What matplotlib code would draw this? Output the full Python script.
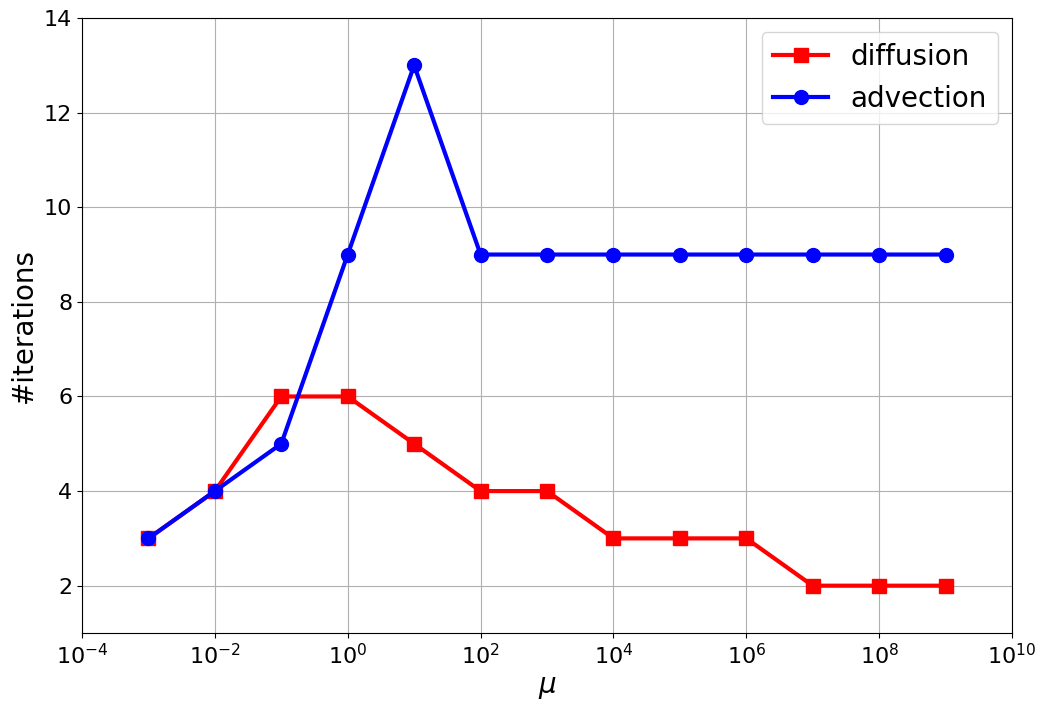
import matplotlib
matplotlib.use("Agg")
import matplotlib.pyplot as plt
import numpy as np

mu = [1e-3, 1e-2, 1e-1, 1e0, 1e1, 1e2, 1e3, 1e4, 1e5, 1e6, 1e7, 1e8, 1e9]
diffusion = [3, 4, 6, 6, 5, 4, 4, 3, 3, 3, 2, 2, 2]
advection = [3, 4, 5, 9, 13, 9, 9, 9, 9, 9, 9, 9, 9]

fig = plt.figure(figsize=(10.46, 7.12), dpi=100)
ax = fig.add_axes([82/1046, 1-633/712, (1012-82)/1046, (633-18)/712])
ax.plot(mu, diffusion, color='red', marker='s', lw=3, ms=10, label='diffusion')
ax.plot(mu, advection, color='blue', marker='o', lw=3, ms=10, label='advection')
ax.set_xscale('log')
ax.set_xlim(1e-4, 1e10)
ax.set_ylim(1, 14)
ax.set_xticks([1e-4, 1e-2, 1e0, 1e2, 1e4, 1e6, 1e8, 1e10])
ax.minorticks_off()
ax.set_yticks([2, 4, 6, 8, 10, 12, 14])
ax.tick_params(labelsize=16)
ax.grid(True)
ax.set_xlabel(r'$\mu$', fontsize=20)
ax.set_ylabel('#iterations', fontsize=20)
ax.legend(fontsize=20, loc='upper right')
fig.savefig('out.png', dpi=100)
